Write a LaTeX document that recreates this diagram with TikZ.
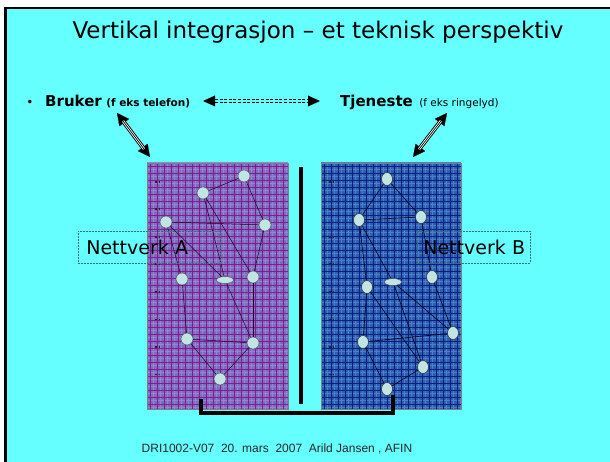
\documentclass[tikz,border=0pt]{standalone}
\usepackage{fontspec}
\setmainfont{DejaVu Sans}
\newfontfamily\arialfont{Liberation Sans}
\usetikzlibrary{arrows.meta,shapes.geometric}
\definecolor{bg}{HTML}{66FFFF}
\definecolor{afill}{HTML}{7A6CC0}
\definecolor{aline}{HTML}{861890}
\definecolor{aminor}{HTML}{9486CE}
\definecolor{bfill}{HTML}{2C5EAE}
\definecolor{bline}{HTML}{0A1E84}
\definecolor{bminor}{HTML}{4C80C8}
\definecolor{nodefill}{HTML}{C2E4E4}
\definecolor{nodeline}{HTML}{4E5E62}
\definecolor{boxline}{HTML}{3E6E70}
\tikzset{
  anode/.style={circle, draw=nodeline, fill=nodefill, line width=0.5pt, minimum size=12pt, inner sep=0pt},
  bnode/.style={ellipse, draw=nodeline!60!black, fill=nodefill, line width=0.6pt, minimum width=11pt, minimum height=13pt, inner sep=0pt},
  flatnode/.style={ellipse, draw=nodeline, fill=nodefill, line width=0.5pt, minimum width=17pt, minimum height=7pt, inner sep=0pt},
  aedge/.style={draw=black!75!violet, line width=0.5pt},
  bedge/.style={draw=black!90!blue, line width=0.6pt},
  lbox/.style={draw=boxline, line width=0.6pt, dash pattern=on 2pt off 1pt, inner ysep=0pt, minimum height=32pt, anchor=north west, align=left, font=\fontsize{19}{22}\selectfont},
  tip/.style={line width=0.1pt, {Triangle[length=12pt,width=12pt]}-{Triangle[length=12pt,width=12pt]}},
  hshaft/.style={double=white, double distance=2.4pt, line width=0.9pt, shorten <=10pt, shorten >=10pt},
  hcore/.style={line width=0.7pt, shorten <=10pt, shorten >=10pt},
  dashline/.style={line width=0.7pt, dash pattern=on 3pt off 1.6pt},
  dotmark/.style={fill=black!85},
}
\begin{document}
\begin{tikzpicture}[x=1pt,y=-1pt]
\useasboundingbox (0,0) rectangle (610,462);
\fill[white] (0,0) rectangle (610,462);
\fill[bg] (5,8) rectangle (612,464);
\draw[line width=2.5pt] (5.5,464) -- (5.5,8.2) -- (612,8.2);

% title
\node[font=\fontsize{23}{27}\selectfont] (title) at (318,32) {Vertikal integrasjon – et teknisk perspektiv};

% bullet line
\node[anchor=base, inner sep=0pt, font=\fontsize{12}{14}\selectfont] (bullet) at (30,106.5) {•};
\node[anchor=base west, inner sep=0pt, font=\bfseries\fontsize{15}{18}\selectfont] (bruker) at (45,106.5) {Bruker};
\node[anchor=base west, inner sep=0pt, font=\bfseries\fontsize{10.5}{12}\selectfont] (brukersub) at ([xshift=4pt]bruker.base east) {(f eks telefon)};
\node[anchor=base west, inner sep=0pt, font=\bfseries\fontsize{15}{18}\selectfont] (tjen) at (340,106.5) {Tjeneste};
\node[anchor=base west, inner sep=0pt, font=\fontsize{10.5}{12}\selectfont] (tjensub) at ([xshift=6pt]tjen.base east) {(f eks ringelyd)};

% dashed double arrow
\coordinate (dl) at (203,101);
\coordinate (dr) at (320,101);
\fill (dl) -- ++(12,-5.5) -- ++(0,11) -- cycle;
\fill (dr) -- ++(-12,-5.5) -- ++(0,11) -- cycle;
\draw[dashline] ([xshift=12pt,yshift=-1.3pt]dl) -- ([xshift=-12pt,yshift=-1.3pt]dr);
\draw[dashline] ([xshift=12pt,yshift=1.3pt]dl) -- ([xshift=-12pt,yshift=1.3pt]dr);

% hollow double-headed arrows
\coordinate (la) at (117,113);
\coordinate (lb) at (150,157);
\coordinate (ra) at (447,113);
\coordinate (rb) at (413,157);
\draw[tip] (la) -- (lb);
\draw[hshaft] (la) -- (lb);
\draw[hcore] (la) -- (lb);
\draw[tip] (ra) -- (rb);
\draw[hshaft] (ra) -- (rb);
\draw[hcore] (ra) -- (rb);

% network A background
\begin{scope}
\clip (147,163) rectangle (288,409);
\fill[afill] (147,163) rectangle (288,409);
\foreach \x in {146.5,153.5,...,290} \draw[aminor, line width=0.5pt] (\x,163) -- (\x,409);
\foreach \y in {162.5,169.5,...,410} \draw[aminor, line width=0.5pt] (147,\y) -- (288,\y);
\foreach \x in {150,157,...,290} \draw[aline, line width=0.8pt] (\x,163) -- (\x,409);
\foreach \y in {166,173,...,410} \draw[aline, line width=0.8pt] (147,\y) -- (288,\y);
\end{scope}
\draw[black!50, line width=0.8pt] (147,163) rectangle (288,409);
\foreach \y in {181,208.5,...,376} {\fill[dotmark] (155,\y) rectangle ++(1.8,1.8); \fill[dotmark] (158.5,\y) rectangle ++(1.8,1.8);}

% network B background
\begin{scope}
\clip (321,163) rectangle (461,409);
\fill[bfill] (321,163) rectangle (461,409);
\foreach \x in {320.5,327.5,...,463} \draw[bminor, line width=0.5pt] (\x,163) -- (\x,409);
\foreach \y in {162.5,169.5,...,410} \draw[bminor, line width=0.5pt] (321,\y) -- (461,\y);
\foreach \x in {324,331,...,463} \draw[bline, line width=0.9pt] (\x,163) -- (\x,409);
\foreach \y in {166,173,...,410} \draw[bline, line width=0.9pt] (321,\y) -- (461,\y);
\end{scope}
\draw[black!50, line width=0.8pt] (321,163) rectangle (461,409);
\foreach \y in {181,208.5,...,376} {\fill[dotmark] (329,\y) rectangle ++(1.8,1.8); \fill[dotmark] (332.5,\y) rectangle ++(1.8,1.8);}

% separator bar and bracket
\fill (299,167) rectangle (303,404);
\coordinate (bl) at (201,399);
\coordinate (br) at (393,395);
\draw[line width=3.5pt] (bl) |- (393,413) -- (br);

% nodes A
\node[anode] (a1) at (244,176) {};
\node[anode] (a2) at (203,193) {};
\node[anode] (a3) at (166,222) {};
\node[anode] (a4) at (265,225) {};
\node[anode] (a5) at (182,279) {};
\node[flatnode] (a6) at (225,280) {};
\node[anode] (a7) at (253,277) {};
\node[anode] (a8) at (187,339) {};
\node[anode] (a9) at (253,343) {};
\node[anode] (a10) at (220,379) {};
\draw[aedge] (a1) -- (a2);
\draw[aedge] (a1) -- (a4);
\draw[aedge] (a3) -- (a4);
\draw[aedge] (a2) -- (a6);
\draw[aedge] (a2) -- (a7);
\draw[aedge] (a3) -- (a5);
\draw[aedge] (a3) -- (a6);
\draw[aedge] (a4) -- (a7);
\draw[aedge] (a5) -- (a8);
\draw[aedge] (a6) -- (a9);
\draw[aedge] (a7) -- (a9);
\draw[aedge] (a8) -- (a9);
\draw[aedge] (a8) -- (a10);
\draw[aedge] (a9) -- (a10);

% nodes B
\node[bnode] (b1) at (387,179) {};
\node[bnode] (b2) at (359,220) {};
\node[bnode] (b3) at (421,217) {};
\node[bnode] (b4) at (432,277) {};
\node[flatnode] (b5) at (393,282) {};
\node[bnode] (b6) at (367,287) {};
\node[bnode] (b7) at (453,333) {};
\node[bnode] (b8) at (363,342) {};
\node[bnode] (b9) at (423,367) {};
\node[bnode] (b10) at (387,389) {};
\draw[bedge] (b1) -- (b2);
\draw[bedge] (b1) -- (b3);
\draw[bedge] (b2) -- (b3);
\draw[bedge] (b2) -- (b6);
\draw[bedge] (b2) -- (b5);
\draw[bedge] (b3) -- (b4);
\draw[bedge] (b4) -- (b7);
\draw[bedge] (b5) -- (b7);
\draw[bedge] (b5) -- (b9);
\draw[bedge] (b6) -- (b8);
\draw[bedge] (b6) -- (b9);
\draw[bedge] (b8) -- (b7);
\draw[bedge] (b8) -- (b10);
\draw[bedge] (b9) -- (b10);

% labels
\node[lbox, inner xsep=8pt, text width=126pt] (labA) at (78,231) {\mbox{Nettverk A}};
\node[lbox, inner xsep=6pt, text width=101pt] (labB) at (417,231) {\mbox{Nettverk B}};

% footer
\node[font=\arialfont\fontsize{12}{14}\selectfont, text=black!85] (foot) at (277,449) {DRI1002-V07\ \ 20. mars\ \ 2007\ \ Arild Jansen , AFIN};
\end{tikzpicture}
\end{document}
